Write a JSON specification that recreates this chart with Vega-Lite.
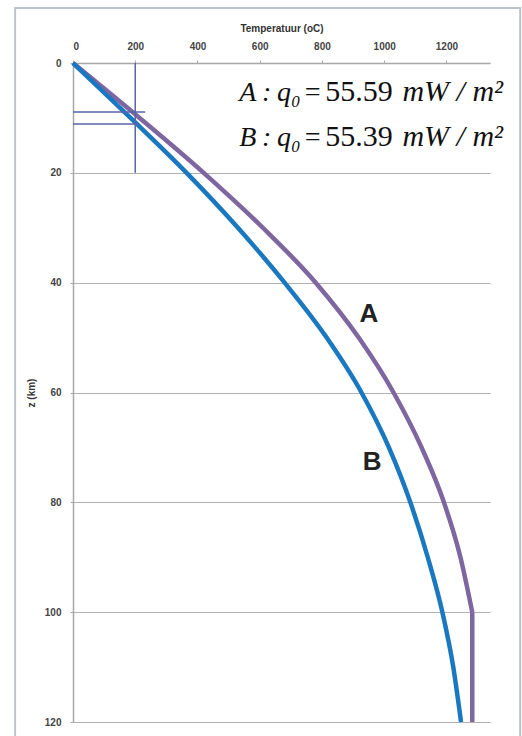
{
  "$schema": "https://vega.github.io/schema/vega-lite/v6.json",
  "width": 417,
  "height": 659,
  "autosize": {"type": "none"},
  "padding": {"left": 73, "top": 63, "right": 32, "bottom": 14},
  "background": "white",
  "config": {
    "view": {"stroke": null},
    "axis": {
      "labelFont": "Liberation Sans",
      "labelFontWeight": "bold",
      "labelFontSize": 10,
      "labelColor": "#444444",
      "titleFont": "Liberation Sans",
      "titleFontWeight": "bold",
      "titleFontSize": 10,
      "titleColor": "#333333",
      "domainColor": "#a8a8a8",
      "domainWidth": 1.5,
      "tickColor": "#a8a8a8",
      "tickSize": 3,
      "labelPadding": 9,
      "gridColor": "#b0b0b0",
      "gridWidth": 1.2
    }
  },
  "datasets": {
    "curves": [
      {"s": "A", "z": 0, "T": 0}, {"s": "A", "z": 10, "T": 214}, {"s": "A", "z": 20, "T": 420},
      {"s": "A", "z": 30, "T": 610}, {"s": "A", "z": 40, "T": 780}, {"s": "A", "z": 50, "T": 918},
      {"s": "A", "z": 60, "T": 1030}, {"s": "A", "z": 70, "T": 1120}, {"s": "A", "z": 80, "T": 1192},
      {"s": "A", "z": 90, "T": 1245}, {"s": "A", "z": 100, "T": 1283},
      {"s": "Atail", "z": 100, "T": 1283}, {"s": "Atail", "z": 120, "T": 1283},
      {"s": "B", "z": 0, "T": 0}, {"s": "B", "z": 10, "T": 185}, {"s": "B", "z": 20, "T": 365},
      {"s": "B", "z": 30, "T": 530}, {"s": "B", "z": 40, "T": 680}, {"s": "B", "z": 50, "T": 815},
      {"s": "B", "z": 60, "T": 927}, {"s": "B", "z": 70, "T": 1015}, {"s": "B", "z": 80, "T": 1084},
      {"s": "B", "z": 90, "T": 1140}, {"s": "B", "z": 100, "T": 1187}, {"s": "B", "z": 110, "T": 1222},
      {"s": "B", "z": 120, "T": 1247}
    ]
  },
  "layer": [
    {
      "data": {"name": "curves"},
      "mark": {"type": "line", "strokeWidth": 4.5, "interpolate": "monotone"},
      "encoding": {
        "x": {
          "field": "T", "type": "quantitative",
          "scale": {"domain": [0, 1340], "nice": false, "zero": false},
          "axis": {"orient": "top", "values": [0, 200, 400, 600, 800, 1000, 1200], "format": "d", "grid": false, "title": "Temperatuur (oC)", "titlePadding": 8}
        },
        "y": {
          "field": "z", "type": "quantitative",
          "scale": {"domain": [0, 120], "nice": false, "zero": false, "reverse": true},
          "axis": {"values": [0, 20, 40, 60, 80, 100, 120], "format": "d", "grid": true, "title": "z (km)", "titlePadding": 8}
        },
        "color": {"field": "s", "type": "nominal", "scale": {"domain": ["A", "Atail", "B"], "range": ["#7e66a0", "#7e66a0", "#1a78c0"]}, "legend": null},
        "order": {"field": "z", "type": "quantitative"}
      }
    },
    {
      "data": {"values": [{"x1": -186, "x2": 1437, "y1": -10, "y2": 130}]},
      "mark": {"type": "rect", "fillOpacity": 0, "stroke": "#b9c4cc", "strokeWidth": 2, "clip": false},
      "encoding": {
        "x": {"field": "x1", "type": "quantitative", "scale": {"domain": [0, 1340], "nice": false, "zero": false}},
        "x2": {"field": "x2"},
        "y": {"field": "y1", "type": "quantitative", "scale": {"domain": [0, 120], "nice": false, "zero": false, "reverse": true}},
        "y2": {"field": "y2"}
      }
    },
    {
      "data": {"values": [
        {"t1": 200, "t2": 200, "z1": 0, "z2": 20},
        {"t1": 0, "t2": 232, "z1": 8.9, "z2": 8.9},
        {"t1": 0, "t2": 210, "z1": 11.1, "z2": 11.1}
      ]},
      "mark": {"type": "rule", "color": "#5865a8", "strokeWidth": 1.5},
      "encoding": {
        "x": {"field": "t1", "type": "quantitative", "scale": {"domain": [0, 1340], "nice": false, "zero": false}},
        "x2": {"field": "t2"},
        "y": {"field": "z1", "type": "quantitative", "scale": {"domain": [0, 120], "nice": false, "zero": false, "reverse": true}},
        "y2": {"field": "z2"}
      }
    },
    {
      "data": {"values": [
        {"txt": "A\u2009:\u2009q₀\u200a=", "tx": 800, "tz": 6.9},
        {"txt": "B\u2009:\u2009q₀\u200a=", "tx": 800, "tz": 15.1}
      ]},
      "mark": {"type": "text", "font": "Liberation Serif", "fontSize": 28, "fontStyle": "italic", "align": "right", "baseline": "alphabetic", "color": "#111111", "clip": false},
      "encoding": {
        "x": {"field": "tx", "type": "quantitative", "scale": {"domain": [0, 1340], "nice": false, "zero": false}},
        "y": {"field": "tz", "type": "quantitative", "scale": {"domain": [0, 120], "nice": false, "zero": false, "reverse": true}},
        "text": {"field": "txt"}
      }
    },
    {
      "data": {"values": [
        {"txt": "55.59", "tx": 919, "tz": 6.9},
        {"txt": "55.39", "tx": 919, "tz": 15.1}
      ]},
      "mark": {"type": "text", "font": "Liberation Serif", "fontSize": 30, "align": "center", "baseline": "alphabetic", "color": "#111111", "clip": false},
      "encoding": {
        "x": {"field": "tx", "type": "quantitative", "scale": {"domain": [0, 1340], "nice": false, "zero": false}},
        "y": {"field": "tz", "type": "quantitative", "scale": {"domain": [0, 120], "nice": false, "zero": false, "reverse": true}},
        "text": {"field": "txt"}
      }
    },
    {
      "data": {"values": [
        {"txt": "mW / m²", "tx": 1382, "tz": 6.9},
        {"txt": "mW / m²", "tx": 1382, "tz": 15.1}
      ]},
      "mark": {"type": "text", "font": "Liberation Serif", "fontSize": 30, "fontStyle": "italic", "align": "right", "baseline": "alphabetic", "color": "#111111", "clip": false},
      "encoding": {
        "x": {"field": "tx", "type": "quantitative", "scale": {"domain": [0, 1340], "nice": false, "zero": false}},
        "y": {"field": "tz", "type": "quantitative", "scale": {"domain": [0, 120], "nice": false, "zero": false, "reverse": true}},
        "text": {"field": "txt"}
      }
    },
    {
      "data": {"values": [
        {"txt": "A", "tx": 951, "tz": 45.7},
        {"txt": "B", "tx": 961, "tz": 72.7}
      ]},
      "mark": {"type": "text", "font": "Liberation Sans", "fontSize": 26, "fontWeight": "bold", "align": "center", "baseline": "middle", "color": "#222222"},
      "encoding": {
        "x": {"field": "tx", "type": "quantitative", "scale": {"domain": [0, 1340], "nice": false, "zero": false}},
        "y": {"field": "tz", "type": "quantitative", "scale": {"domain": [0, 120], "nice": false, "zero": false, "reverse": true}},
        "text": {"field": "txt"}
      }
    }
  ]
}
